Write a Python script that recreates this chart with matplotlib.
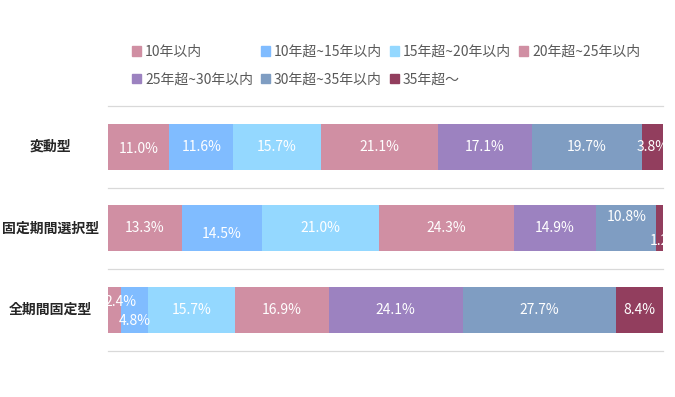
import matplotlib
matplotlib.use('Agg')
import matplotlib.pyplot as plt
from matplotlib.patches import Patch
from matplotlib.transforms import blended_transform_factory

plt.rcParams['font.family'] = ['Noto Sans CJK JP', 'DejaVu Sans']

categories = ['変動型', '固定期間選択型', '全期間固定型']
series_names = ['10年以内', '10年超~15年以内', '15年超~20年以内', '20年超~25年以内',
                '25年超~30年以内', '30年超~35年以内', '35年超～']
values = [
    [11.0, 13.3, 2.4],
    [11.6, 14.5, 4.8],
    [15.7, 21.0, 15.7],
    [21.1, 24.3, 16.9],
    [17.1, 14.9, 24.1],
    [19.7, 10.8, 27.7],
    [3.8, 1.2, 8.4],
]
colors = ['#D08FA3', '#80BCFF', '#94D8FF', '#D08FA3', '#9C82C0', '#7F9DC2', '#923E5E']

# label nudges (points) where the original labels are pushed off centre
nudge = {(0, 0): (0, -2), (1, 1): (0, -4), (5, 1): (0, 8), (6, 1): (0, -9),
         (0, 2): (4, 6), (1, 2): (0, -8)}

fig = plt.figure(figsize=(6.75, 3.97), dpi=100)
ax = fig.add_axes([0.16, 0.116, 0.822, 0.6175])

ypos = range(len(categories))
left = [0.0] * len(categories)
for i, (name, vals) in enumerate(zip(series_names, values)):
    ax.barh(ypos, vals, left=left, height=0.56, color=colors[i], label=name)
    for j, v in enumerate(vals):
        dx, dy = nudge.get((i, j), (0, 0))
        txt = '1.2' if (i, j) == (6, 1) else '%.1f%%' % v
        ax.annotate(txt, (left[j] + v / 2, j), xytext=(dx, dy), textcoords='offset points',
                    ha='center', va='center', color='white', fontsize=10,
                    annotation_clip=False, clip_on=True)
        left[j] += v

ax.set_xlim(0, 100)
ax.set_ylim(2.5, -0.5)
ax.set_yticks([])
ax.set_xticks([])
trans = blended_transform_factory(ax.transAxes, ax.transData)
for j, cat in enumerate(categories):
    ax.text(-0.103, j, cat, transform=trans, ha='center', va='center',
            fontsize=10, fontweight='bold', color='#262626')
for s in ax.spines.values():
    s.set_visible(False)
for b in [-0.5, 0.5, 1.5, 2.5]:
    ax.axhline(b, color='#D9D9D9', lw=0.9, xmin=0, xmax=1, clip_on=False)

handles = [Patch(color=c, label=n) for c, n in zip(colors, series_names)]
order = [0, 4, 1, 5, 2, 6, 3]
fig.legend([handles[k] for k in order], [series_names[k] for k in order],
           ncol=4, loc='upper left', bbox_to_anchor=(132 / 675, 1 - 45 / 397),
           frameon=False, borderpad=0, borderaxespad=0,
           fontsize=10, handlelength=0.65, handleheight=0.65, handletextpad=0.3,
           columnspacing=0.55, labelspacing=0.95, labelcolor='#595959')

fig.savefig('out.png', dpi=100)
